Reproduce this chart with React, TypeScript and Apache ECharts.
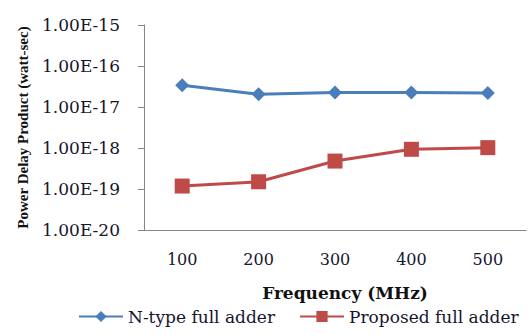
import React, { useEffect, useRef } from "react";
import * as echarts from "echarts";

const categories = ["100", "200", "300", "400", "500"];
const nTypeValues = [3.4e-17, 2.05e-17, 2.25e-17, 2.25e-17, 2.2e-17];
const proposedValues = [1.18e-19, 1.5e-19, 4.8e-19, 9.3e-19, 1.02e-18];
const seriesNames = ["N-type full adder", "Proposed full adder"];

export default function App() {
  const ref = useRef<HTMLDivElement>(null);
  useEffect(() => {
    const chart = echarts.init(ref.current!, null, { renderer: "svg" });
    const wide = "'DejaVu Serif', serif";
    const times = "'Liberation Serif', 'Times New Roman', serif";
    const textColor = "#16162c";
    chart.setOption({
      animation: false,
      textStyle: { fontFamily: wide },
      grid: { left: 144, right: 4, top: 25, bottom: 105 },
      legend: {
        bottom: 5,
        left: 73,
        itemWidth: 44,
        itemHeight: 14,
        itemGap: 24,
        textStyle: { fontFamily: wide, fontSize: 17, color: textColor },
        data: seriesNames,
      },
      xAxis: {
        type: "category",
        data: categories,
        boundaryGap: true,
        name: "Frequency (MHz)",
        nameLocation: "middle",
        nameGap: 54,
        nameTextStyle: {
          fontFamily: wide,
          fontSize: 17,
          fontWeight: "bold",
          color: "#111",
          padding: [0, 0, 0, 20],
        },
        axisLine: { lineStyle: { color: "#868686", width: 1 } },
        axisTick: { alignWithLabel: true, length: 5, lineStyle: { color: "#868686" } },
        axisLabel: { fontFamily: wide, fontSize: 16, color: textColor, margin: 21 },
      },
      yAxis: {
        type: "log",
        logBase: 10,
        min: 1e-20,
        max: 1e-15,
        name: "Power Delay Product (watt-sec)",
        nameLocation: "middle",
        nameGap: 114,
        nameTextStyle: { fontFamily: times, fontSize: 15, fontWeight: "bold", color: "#111" },
        axisLine: { show: true, lineStyle: { color: "#868686", width: 1 } },
        axisTick: { show: true, length: 6, lineStyle: { color: "#868686" } },
        splitLine: { show: false },
        axisLabel: {
          fontFamily: wide,
          fontSize: 17,
          color: textColor,
          margin: 24,
          formatter: (v: number) => "1.00E" + Math.round(Math.log10(v)),
        },
      },
      series: [
        {
          name: seriesNames[0],
          type: "line",
          data: nTypeValues,
          symbol: "diamond",
          symbolSize: 14,
          lineStyle: { width: 3, color: "#4a7ebb" },
          itemStyle: { color: "#4a7ebb" },
        },
        {
          name: seriesNames[1],
          type: "line",
          data: proposedValues,
          symbol: "rect",
          symbolSize: 15,
          lineStyle: { width: 3, color: "#be4b48" },
          itemStyle: { color: "#be4b48" },
        },
      ],
    });
    return () => chart.dispose();
  }, []);
  return <div ref={ref} style={{ width: 530, height: 335, position: "absolute", left: 0, top: 0 }} />;
}
